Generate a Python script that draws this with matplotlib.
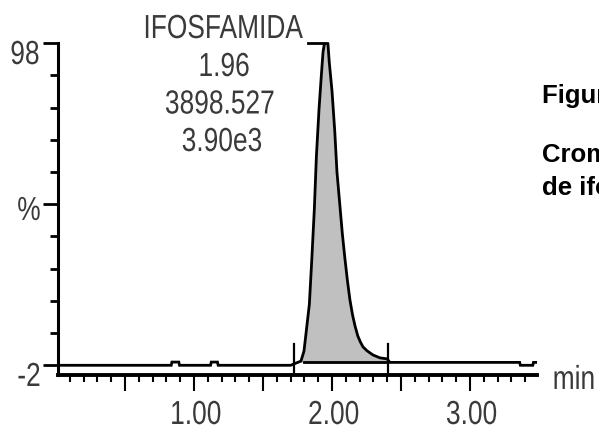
import matplotlib
matplotlib.use('Agg')
import matplotlib.pyplot as plt
from matplotlib.patheffects import AbstractPathEffect
from matplotlib.transforms import Affine2D, blended_transform_factory as btf, offset_copy
from matplotlib.ticker import MultipleLocator, FixedLocator, NullFormatter

# ---------------- data ----------------
times = [0.0145, 0.835, 0.84, 0.89, 0.895, 1.12, 1.125, 1.17, 1.175, 1.70,
         1.775, 1.797, 1.812, 1.836, 1.853, 1.872, 1.887, 1.906, 1.923, 1.935,
         1.953, 1.967, 1.980, 2.000, 2.020, 2.036, 2.058, 2.075, 2.094, 2.112,
         2.130, 2.149, 2.167, 2.187, 2.206, 2.225, 2.254, 2.297, 2.348, 2.399,
         2.42, 3.36, 3.365, 3.455, 3.46, 3.4855]
intensity = [-2, -2, -1, -1, -2, -2, -1, -1, -2, -2,
             -0.7, 2.4, 8.0, 17.0, 30.4, 46.5, 63.0, 77.6, 88.2, 95.3,
             100, 100, 92.2, 83.2, 70.7, 58.0, 47.2, 38.8, 31.0, 24.2,
             18.3, 13.6, 10.2, 7.1, 5.2, 3.7, 2.5, 1.2, 0.3, 0.0,
             -1.1, -1.1, -2, -2, -1.1, -1.1]
peak_start, peak_end = 1.775, 2.399
integ_base = -1.1
marker_times = [1.725, 2.406]
peak_label = ["IFOSFAMIDA", "1.96", "3898.527", "3.90e3"]
x_tick_labels = {1.0: "1.00", 2.0: "2.00", 3.0: "3.00"}
y_tick_labels = {98: "98", 48: "%", -2: "-2"}
caption = ["Figura 1.", "Cromatograma", "de ifosfamida"]


class Squeeze(AbstractPathEffect):
    """Draw text glyphs horizontally condensed around the text centre."""
    def __init__(self, sx=0.79, anchor='center'):
        super().__init__()
        self.sx = sx
        self.anchor = anchor

    def draw_path(self, renderer, gc, tpath, affine, rgbFace=None):
        ext = tpath.get_extents()
        cx = 0.5 * (ext.x0 + ext.x1) if self.anchor == 'center' else 0.0
        aff = Affine2D().translate(-cx, 0).scale(self.sx, 1.0).translate(cx, 0) + affine
        renderer.draw_path(gc, tpath, aff, rgbFace)


FONT = 'Liberation Sans'
NSIZE = 24
TXT = '#3a3a3a'
SQ = [Squeeze(0.79)]

W, H = 599, 427
fig = plt.figure(figsize=(W / 100, H / 100), dpi=100)
ax_left, ax_right = 58 / W, 537 / W
ax_top, ax_bot = 1 - 44.3 / H, 1 - 375.5 / H
ax = fig.add_axes([ax_left, ax_bot, ax_right - ax_left, ax_top - ax_bot])
ax.set_xlim(0.0145, 3.4855)
ax.set_ylim(-4.86, 98)

# fill under peak
i0 = times.index(peak_start)
i1 = times.index(peak_end)
ax.fill_between(times[i0:i1 + 1], intensity[i0:i1 + 1], integ_base,
                color='#c0c0c0', lw=0, zorder=1)
ax.plot([1.80, peak_end], [integ_base, integ_base], color='black', lw=2.0, zorder=2)
ax.plot(times, intensity, color='black', lw=2.0, zorder=3,
        solid_joinstyle='miter')
for mt in marker_times:
    ax.plot([mt, mt], [-4.1, 4.6], color='black', lw=1.6, zorder=3, clip_on=False)
# label leader line at top of peak
ax.plot([1.826, 1.962], [98, 98], color='black', lw=2.0, clip_on=False, zorder=3)

# spines
for s in ['top', 'right']:
    ax.spines[s].set_visible(False)
ax.spines['left'].set_linewidth(2.2)
ax.spines['bottom'].set_linewidth(2.8)

ax.xaxis.set_major_locator(MultipleLocator(0.5))
ax.xaxis.set_minor_locator(MultipleLocator(0.1))
ax.yaxis.set_major_locator(FixedLocator([-2, 48, 98]))
ax.yaxis.set_minor_locator(FixedLocator([8, 18, 28, 38, 58, 68, 78, 88]))
ax.xaxis.set_major_formatter(NullFormatter())
ax.yaxis.set_major_formatter(NullFormatter())
ax.tick_params(axis='x', which='major', length=11.5, width=1.5, direction='out')
ax.tick_params(axis='x', which='minor', length=5.0, width=1.5, direction='out')
ax.tick_params(axis='y', which='major', length=11.0, width=2.0, direction='out')
ax.tick_params(axis='y', which='minor', length=5.8, width=2.0, direction='out')
ax.patch.set_alpha(0)

# tick labels (as text)
tx = btf(ax.transData, ax.transAxes)
for v, lab in x_tick_labels.items():
    ax.text(v, 0, lab, transform=offset_copy(tx, fig=fig, x=1.5, y=-49.5, units='dots'),
            ha='center', va='baseline', family=FONT, size=NSIZE, color=TXT,
            path_effects=SQ)
ty = btf(ax.transAxes, ax.transData)
for v, lab in y_tick_labels.items():
    dx = -29 if lab in ('%', '-2') else -33
    dy = -15.7 if lab == '%' else -20.7
    ax.text(0, v, lab, transform=offset_copy(ty, fig=fig, x=dx, y=dy, units='dots'),
            ha='center', va='baseline', family=FONT, size=NSIZE, color=TXT,
            path_effects=SQ)
fig.text(574 / W, 1 - 390 / H, "min", ha='center', va='baseline',
         family=FONT, size=NSIZE, color=TXT, path_effects=SQ)

# peak annotation
for lab, (cx, by) in zip(peak_label, [(223, 39), (224, 77), (220, 114.5), (222, 152)]):
    fig.text(cx / W, 1 - by / H, lab, ha='center', va='baseline',
             family=FONT, size=NSIZE, color=TXT, path_effects=SQ)

# caption on right (clipped by figure edge)
for lab, by in zip(caption, [103, 162, 195]):
    fig.text(542 / W, 1 - by / H, lab, ha='left', va='baseline',
             family=FONT, weight='bold', size=18.5, color='black')

fig.savefig('out.png', dpi=100)
